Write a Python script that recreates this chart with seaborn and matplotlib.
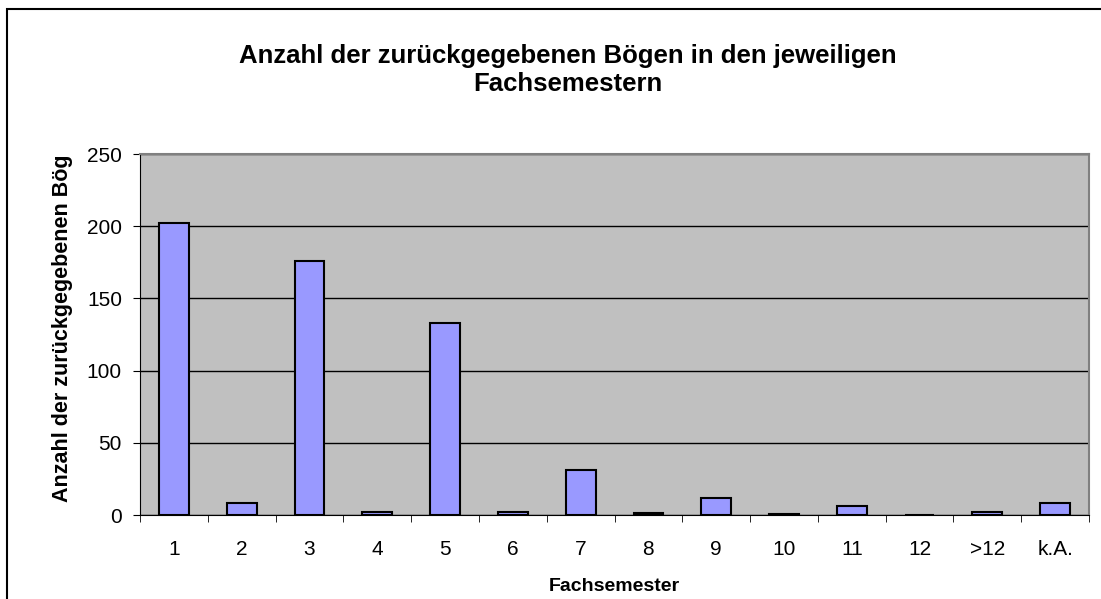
import numpy as np
import pandas as pd
import matplotlib
matplotlib.use("Agg")
import matplotlib.pyplot as plt
import seaborn as sb

# Werte
semester = ["1", "2", "3", "4", "5", "6", "7", "8", "9", "10", "11", "12", ">12", "k.A."]
anzahl = [202, 8, 176, 2, 133, 2, 31, 1.5, 12, 1, 6, 0, 2, 8]

data = pd.DataFrame({"Fachsemester": semester, "Anzahl": anzahl})

sb.set_style("white")
plt.rcParams["font.family"] = ["Liberation Sans", "DejaVu Sans"]
plt.rcParams["text.color"] = "black"
plt.rcParams["axes.labelcolor"] = "black"
plt.rcParams["xtick.color"] = "black"
plt.rcParams["ytick.color"] = "black"

fig = plt.figure(figsize=(11.01, 5.99), dpi=100)
ax = fig.add_axes([0.1272, 0.1402, 0.9891 - 0.1272, 0.7429 - 0.1402])
ax.set_facecolor("#C0C0C0")

sb.barplot(x="Fachsemester", y="Anzahl", data=data, color="#9999FF",
           edgecolor="black", linewidth=1.5, width=0.44, saturation=1, ax=ax, zorder=3)

ax.set_ylim(0, 250)
ax.set_xlim(-0.5, len(semester) - 0.5)
ax.set_yticks([0, 50, 100, 150, 200, 250])
ax.yaxis.grid(True, color="black", linewidth=1)
ax.set_axisbelow(True)

for s in ["top", "right"]:
    ax.spines[s].set_color("#808080")
    ax.spines[s].set_linewidth(1.5)
ax.spines["left"].set_color("black")
ax.spines["bottom"].set_color("black")

ax.tick_params(axis="y", which="major", length=5, direction="out",
               labelsize=15, left=True, pad=8)
ax.tick_params(axis="x", which="major", length=0, labelsize=15, pad=18)
ax.set_xticks(np.arange(-0.5, len(semester), 1), minor=True)
ax.tick_params(axis="x", which="minor", length=5, direction="out", bottom=True)

ax.set_xlabel("Fachsemester", fontsize=14, fontweight="bold", va="center")
ax.set_ylabel("Anzahl der zurückgegebenen Bög", fontsize=15.5, fontweight="bold", va="center")
ax.xaxis.set_label_coords(0.5, (515 - 586) / 361)
ax.yaxis.set_label_coords((62 - 140) / 949, 0.518)

fig.text(0.516, 1 - 70 / 599, "Anzahl der zurückgegebenen Bögen in den jeweiligen\nFachsemestern",
         ha="center", va="center", fontsize=18.5, fontweight="bold", linespacing=1.2)

# Rahmen des Diagrammbereichs
fig.patches.append(plt.Rectangle((7 / 1101, -0.1), 1.2, 1 - 9 / 599 + 0.1, transform=fig.transFigure,
                                 fill=False, edgecolor="black", linewidth=1.5))

plt.savefig("out.png", dpi=100)
print("Saved image!")
